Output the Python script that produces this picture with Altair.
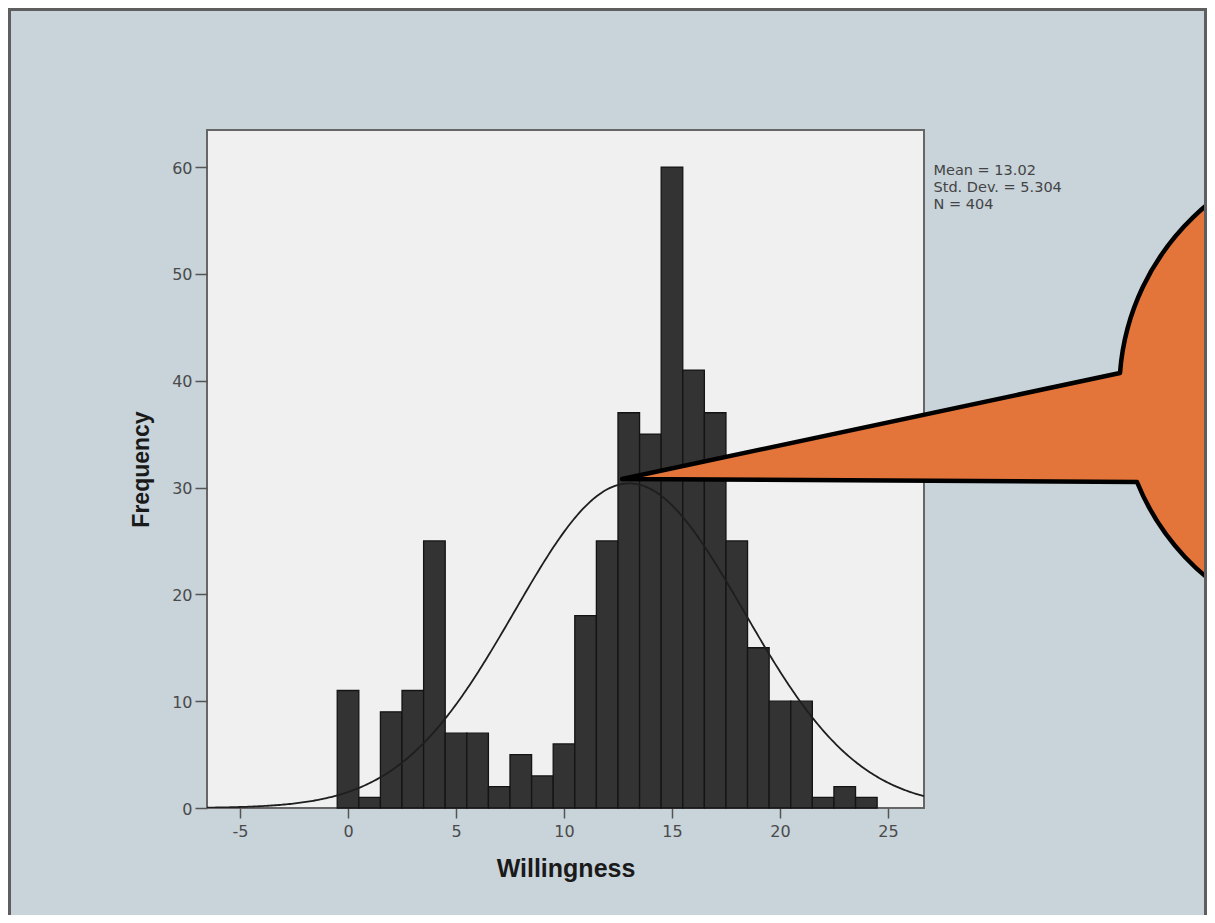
import altair as alt
import numpy as np
import pandas as pd

# ---- data ----
values = list(range(0, 25))
counts = [11, 1, 9, 11, 25, 7, 7, 2, 5, 3, 6, 18, 25, 37, 35, 60, 41, 37, 25, 15, 10, 10, 1, 2, 1]
stat_lines = ["Mean = 13.02", "Std. Dev. = 5.304", "N = 404"]
mean = 13.02
sd = 5.304
n_total = 404
bin_width = 1
x_ticks = [-5, 0, 5, 10, 15, 20, 25]
y_ticks = [0, 10, 20, 30, 40, 50, 60]
x_domain = [-6.53, 26.67]
y_domain = [0, 63.47]
x_title = "Willingness"
y_title = "Frequency"

bars_df = pd.DataFrame({"value": values, "count": counts})

# fitted normal curve defined by the stated mean / std. dev. / N
cx = np.linspace(x_domain[0], x_domain[1], 400)
cy = n_total * bin_width / (sd * np.sqrt(2 * np.pi)) * np.exp(-((cx - mean) ** 2) / (2 * sd ** 2))
curve_df = pd.DataFrame({"x": cx, "y": cy})

W, H = 717, 678
PAD = {"left": 199, "top": 122, "right": 283, "bottom": 107}

xscale = alt.Scale(domain=x_domain, nice=False, zero=False)
yscale = alt.Scale(domain=y_domain, nice=False, zero=False)

x_axis = alt.Axis(
    values=x_ticks, labelExpr="'' + datum.value", grid=False, domain=False,
    tickSize=10, tickWidth=1.5, tickColor="#555555", labelPadding=5,
    labelFont="DejaVu Sans", labelFontSize=16, labelColor="#4a4a4a", labelFlush=False,
    titleFont="Liberation Sans", titleFontSize=25, titleFontWeight="bold",
    titleColor="#1a1a1a", titlePadding=17,
)
y_axis = alt.Axis(
    values=y_ticks, grid=False, domain=False,
    tickSize=12, tickWidth=1.5, tickColor="#555555", labelPadding=3, labelOffset=1,
    labelFont="DejaVu Sans", labelFontSize=16, labelColor="#4a4a4a", labelFlush=False,
    titleFont="Liberation Sans", titleFontSize=23, titleFontWeight="bold",
    titleColor="#1a1a1a", titlePadding=18,
)

bars = (
    alt.Chart(bars_df)
    .transform_calculate(x0=f"datum.value - {bin_width}/2", x1=f"datum.value + {bin_width}/2")
    .mark_rect(fill="#333333", stroke="#141414", strokeWidth=1.3)
    .encode(
        x=alt.X("x0:Q", scale=xscale, axis=x_axis, title=x_title),
        x2="x1:Q",
        y=alt.Y("count:Q", scale=yscale, axis=y_axis, title=y_title),
        y2=alt.datum(0),
    )
)

curve = (
    alt.Chart(curve_df)
    .mark_line(color="#1e1e1e", strokeWidth=1.8, clip=True)
    .encode(
        x=alt.X("x:Q", scale=xscale, axis=x_axis, title=x_title),
        y=alt.Y("y:Q", scale=yscale, axis=y_axis, title=y_title),
    )
)

one = alt.Data(values=[{"k": 1}])

stats = (
    alt.Chart(one)
    .mark_text(align="left", baseline="top", font="DejaVu Sans", fontSize=14.5,
               lineHeight=17, color="#444444")
    .encode(x=alt.value(726.5), y=alt.value(34), text=alt.value(stat_lines))
)

# orange speech-bubble callout (circle + wedge), path centred on the circle
bubble_path = "M -241 -20 A 242 242 0 1 1 -224 89 L -739 86 Z"
bubble = (
    alt.Chart(one)
    .mark_point(shape=bubble_path, size=4, filled=True, fill="#e3743a",
                stroke="#000000", strokeWidth=4.5, strokeJoin="round", opacity=1)
    .encode(x=alt.value(1154), y=alt.value(263))
)

frame_color = "#5e5e5e"
frame_left = alt.Chart(one).mark_rule(color=frame_color, strokeWidth=3).encode(
    x=alt.value(-197.5), y=alt.value(-122), y2=alt.value(H + PAD["bottom"]))
frame_top = alt.Chart(one).mark_rule(color=frame_color, strokeWidth=3).encode(
    x=alt.value(-199), x2=alt.value(W + PAD["right"]), y=alt.value(-120.5))
frame_right = alt.Chart(one).mark_rule(color=frame_color, strokeWidth=3).encode(
    x=alt.value(W + PAD["right"] - 1.5), y=alt.value(-122), y2=alt.value(H + PAD["bottom"]))

chart = (
    alt.layer(bars, curve, stats, bubble, frame_left, frame_top, frame_right)
    .properties(width=W, height=H, autosize=alt.AutoSizeParams(type="none"), padding=PAD)
    .configure(background="#c8d3da")
    .configure_view(fill="#f0f0f0", stroke="#666666", strokeWidth=2)
)

chart.save("out.html", embed_options={"renderer": "svg", "actions": False})
